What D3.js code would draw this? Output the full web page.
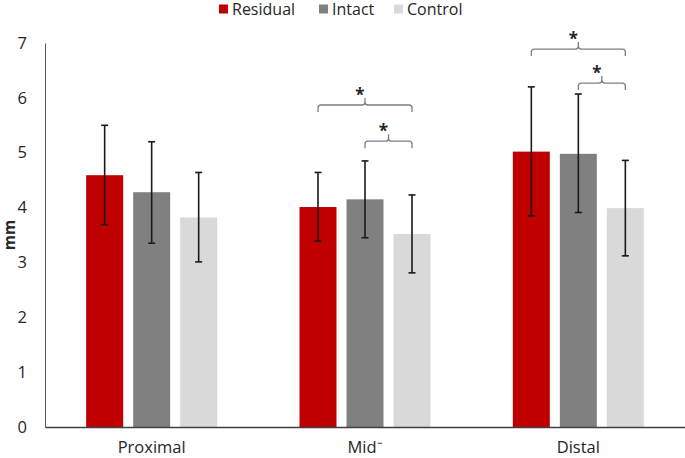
<!DOCTYPE html>
<html>
<head>
<meta charset="utf-8">
<script src="https://cdn.jsdelivr.net/npm/d3@7"></script>
<style>
  body { margin: 0; background: #fff; }
  text { font-family: "Open Sans", "Liberation Sans", sans-serif; fill: #262626; }
</style>
</head>
<body>
<div id="chart"></div>
<script>
const categories = ["Proximal", "Mid\u207B", "Distal"];
const groups = ["Residual", "Intact", "Control"];
const colors = ["#c00000", "#808080", "#d9d9d9"];

// mean values per category, in group order
const residualMean = [4.59, 4.01, 5.02];
const intactMean = [4.28, 4.15, 4.98];
const controlMean = [3.82, 3.52, 3.99];

// error bar low / high
const residualLow = [3.69, 3.39, 3.85];
const residualHigh = [5.50, 4.64, 6.20];
const intactLow = [3.35, 3.45, 3.91];
const intactHigh = [5.20, 4.85, 6.07];
const controlLow = [3.01, 2.81, 3.12];
const controlHigh = [4.64, 4.23, 4.86];

const yTicks = [0, 1, 2, 3, 4, 5, 6, 7];

// significance brackets: category, from group, to group, level (mm)
const brackets = [
  { cat: "Mid\u207B", from: "Residual", to: "Control", y: 5.87 },
  { cat: "Mid\u207B", from: "Intact", to: "Control", y: 5.21 },
  { cat: "Distal", from: "Residual", to: "Control", y: 6.89 },
  { cat: "Distal", from: "Intact", to: "Control", y: 6.27 }
];

const width = 685;
const height = 458;
const margin = { top: 43, right: 0, bottom: 31, left: 45 };

const svg = d3.select("#chart")
  .append("svg")
  .attr("width", width)
  .attr("height", height);

const means = [residualMean, intactMean, controlMean];
const lows = [residualLow, intactLow, controlLow];
const highs = [residualHigh, intactHigh, controlHigh];

const data = [];
categories.forEach(function(c, ci) {
  groups.forEach(function(g, gi) {
    data.push({
      cat: c,
      group: g,
      value: means[gi][ci],
      low: lows[gi][ci],
      high: highs[gi][ci],
      color: colors[gi]
    });
  });
});

const x0 = d3.scaleBand()
  .domain(categories)
  .range([margin.left, width - margin.right])
  .padding(0);

const x1 = d3.scaleBand()
  .domain(groups)
  .range([0, 131])
  .paddingInner(0.213)
  .paddingOuter(0);

const groupOffset = x0.bandwidth() / 2 - 65.5;

const y = d3.scaleLinear()
  .domain([0, 7])
  .range([height - margin.bottom, margin.top]);

function barX(d) {
  return x0(d.cat) + groupOffset + x1(d.group);
}

function barCenter(cat, group) {
  return x0(cat) + groupOffset + x1(group) + x1.bandwidth() / 2;
}

// Bars
svg.selectAll(".bar")
  .data(data)
  .enter()
  .append("rect")
  .attr("class", "bar")
  .attr("x", d => barX(d))
  .attr("y", d => y(d.value))
  .attr("width", x1.bandwidth())
  .attr("height", d => y(0) - y(d.value))
  .attr("fill", d => d.color);

// Error bars
const err = svg.selectAll(".err")
  .data(data)
  .enter()
  .append("g")
  .attr("class", "err")
  .attr("stroke", "#1a1a1a")
  .attr("stroke-width", 1.6);

err.append("line")
  .attr("x1", d => barCenter(d.cat, d.group))
  .attr("x2", d => barCenter(d.cat, d.group))
  .attr("y1", d => y(d.low))
  .attr("y2", d => y(d.high));

err.append("line")
  .attr("x1", d => barCenter(d.cat, d.group) - 3.5)
  .attr("x2", d => barCenter(d.cat, d.group) + 3.5)
  .attr("y1", d => y(d.high))
  .attr("y2", d => y(d.high));

err.append("line")
  .attr("x1", d => barCenter(d.cat, d.group) - 3.5)
  .attr("x2", d => barCenter(d.cat, d.group) + 3.5)
  .attr("y1", d => y(d.low))
  .attr("y2", d => y(d.low));

// Y axis
const yAxis = svg.append("g")
  .attr("transform", `translate(${margin.left}, 0)`)
  .call(d3.axisLeft(y).tickValues(yTicks).tickFormat(d3.format("d")).tickSize(0).tickPadding(18));

yAxis.select(".domain").attr("stroke", "#595959").attr("stroke-width", 1);
yAxis.selectAll("text")
  .style("font-size", "16.5px")
  .style("font-family", "'Open Sans', sans-serif")
  .attr("fill", "#262626");

// X axis
const xAxis = svg.append("g")
  .attr("transform", `translate(0, ${height - margin.bottom})`)
  .call(d3.axisBottom(x0).tickSize(0).tickPadding(14));

xAxis.select(".domain").attr("stroke", "#404040").attr("stroke-width", 1.5);
xAxis.selectAll("text")
  .style("font-size", "16.5px")
  .style("font-family", "'Open Sans', sans-serif")
  .attr("fill", "#262626");

// Axis title
svg.append("text")
  .attr("transform", `translate(15, ${(y(0) + y(7)) / 2}) rotate(-90)`)
  .attr("text-anchor", "middle")
  .style("font-size", "15.5px")
  .style("font-weight", "bold")
  .text("mm");

// Significance brackets
brackets.forEach(function(b) {
  const xa = barCenter(b.cat, b.from);
  const xb = barCenter(b.cat, b.to);
  const yy = y(b.y);
  const xm = (xa + xb) / 2;
  const r = 3;
  const path = d3.path();
  path.moveTo(xa, yy + 7);
  path.lineTo(xa, yy + r);
  path.quadraticCurveTo(xa, yy, xa + r, yy);
  path.lineTo(xm - r, yy);
  path.quadraticCurveTo(xm, yy, xm, yy - r);
  path.lineTo(xm, yy - 7);
  path.moveTo(xm, yy - r);
  path.quadraticCurveTo(xm, yy, xm + r, yy);
  path.lineTo(xb - r, yy);
  path.quadraticCurveTo(xb, yy, xb, yy + r);
  path.lineTo(xb, yy + 7);

  svg.append("path")
    .attr("d", path.toString())
    .attr("fill", "none")
    .attr("stroke", "#7f7f7f")
    .attr("stroke-width", 1.3);

  svg.append("text")
    .attr("x", xm - 5)
    .attr("y", yy - 4)
    .attr("text-anchor", "middle")
    .style("font-size", "17px")
    .style("font-weight", "bold")
    .text("*");
});

// Legend
const legendX = [219, 319, 394];
const legend = svg.selectAll(".legend")
  .data(groups)
  .enter()
  .append("g")
  .attr("class", "legend")
  .attr("transform", (d, i) => `translate(${legendX[i]}, 9)`);

legend.append("rect")
  .attr("x", 0)
  .attr("y", -4.5)
  .attr("width", 9)
  .attr("height", 9)
  .attr("fill", (d, i) => colors[i]);

legend.append("text")
  .attr("x", 13)
  .attr("y", 6)
  .style("font-size", "16px")
  .text(d => d);
</script>
</body>
</html>
